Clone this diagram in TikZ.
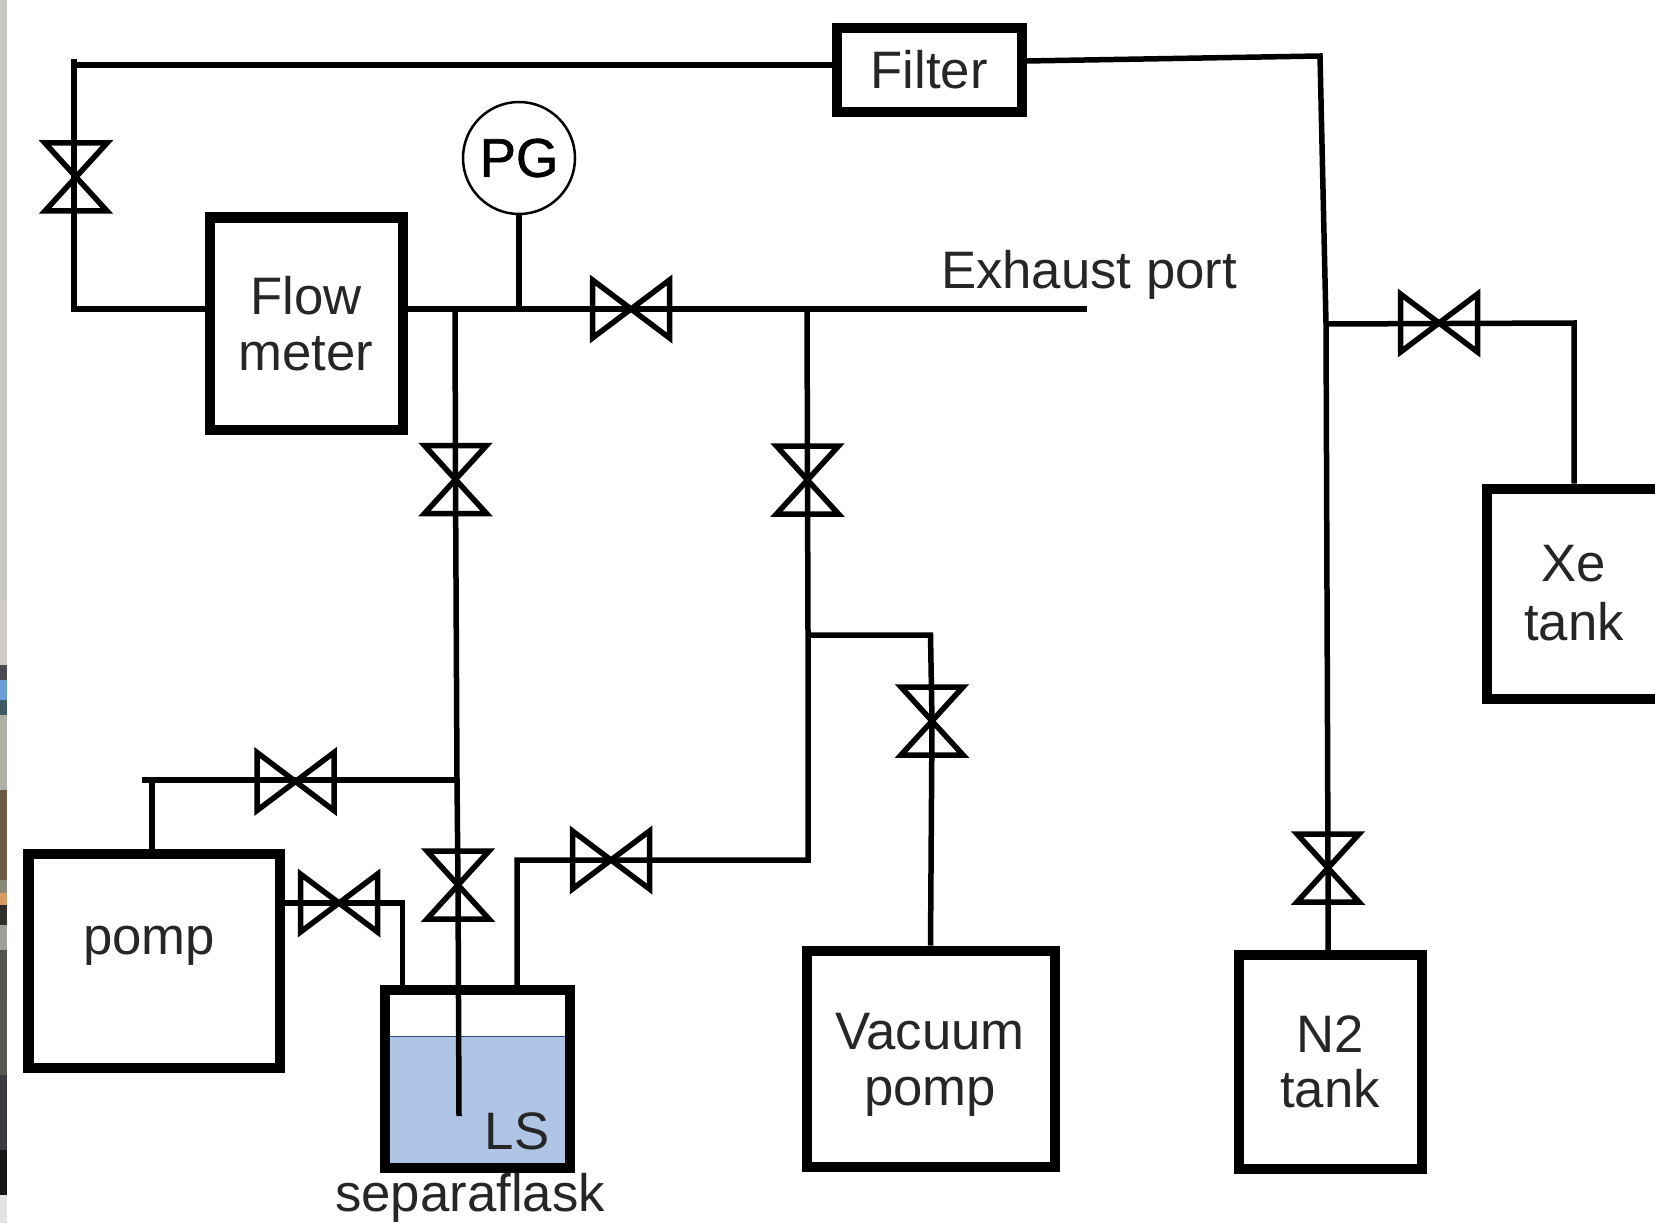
\documentclass[tikz,border=0pt]{standalone}
\usepackage{fontspec}
\setmainfont{Liberation Sans}
\newfontfamily\pgfont[FakeBold=1.2]{Liberation Sans}
\usetikzlibrary{positioning, calc}

\definecolor{lsblue}{HTML}{B0C5E5}
\definecolor{lsline}{HTML}{2A4A80}

\begin{document}
\begin{tikzpicture}[
  font=\fontsize{15}{15.8}\selectfont,
  unit/.style={draw, line width=0.1cm, align=center, inner sep=0pt, text=black!85},
  pipe/.style={line width=0.055cm},
  lbl/.style={text=black!85, inner sep=0pt, align=center},
  hvalve/.style={minimum width=0.9cm, minimum height=0.72cm, inner sep=0pt,
    path picture={\draw[line width=0.055cm, shift={(path picture bounding box.center)}]
      (-0.385,-0.29) -- (-0.385,0.29) -- (0.385,-0.29) -- (0.385,0.29) -- cycle;}},
  vvalve/.style={minimum width=0.78cm, minimum height=0.8cm, inner sep=0pt,
    path picture={\draw[line width=0.055cm, shift={(path picture bounding box.center)}]
      (-0.31,-0.34) -- (0.31,-0.34) -- (-0.31,0.34) -- (0.31,0.34) -- cycle;}}
]
\useasboundingbox (0,0) rectangle (16.55,12.23);
% rest of a photo at the left edge
\foreach \ya/\yb/\col in {12.23/6.23/C9C9C3, 6.23/5.58/CFCDC5, 5.58/5.43/4A4A55,
    5.43/5.23/6A9ED6, 5.23/5.08/3F5A66, 5.08/4.33/B0B0A5, 4.33/3.43/6A5A45,
    3.43/3.30/8A8A7A, 3.30/3.18/D89A60, 3.18/2.98/2E2E2A, 2.98/2.73/A0A098,
    2.73/2.23/555550, 2.23/1.48/55594F, 1.48/0.73/3A3A40, 0.73/0.28/151515,
    0.28/0/E4E4E4} {
  \definecolor{stripcol}{HTML}{\col}
  \fill[stripcol] (0,\ya) rectangle (0.07,\yb);
}
% units
\node[unit, minimum width=1.85cm, minimum height=0.84cm] (filter) at (9.29,11.53) {Filter};
\node[unit, minimum width=1.93cm, minimum height=2.12cm] (fm) at (3.06,8.995) {Flow\\meter};
\node[unit, minimum width=2.51cm, minimum height=2.14cm] (pomp) at (1.54,2.625) {};
\node[lbl] (pomptxt) at (1.49,2.77) {pomp};
\node[unit, minimum width=2.48cm, minimum height=2.16cm] (vac) at (9.305,1.645) {};
\node[lbl] (vactxt) at (9.30,1.58) {Vacuum\\pomp};
\node[unit, minimum width=1.83cm, minimum height=2.14cm] (n2) at (13.30,1.61) {N2\\tank};
\node[unit, minimum width=1.75cm, minimum height=2.10cm] (xe) at (15.74,6.295)
      {Xe\\[1pt]tank};
% liquid in the flask
\node[fill=lsblue, draw=lsline, line width=0.015cm, minimum width=1.85cm,
      minimum height=1.315cm, inner sep=0pt] (liquid) at (4.775,1.2075) {};
\node[unit, minimum width=1.85cm, minimum height=1.78cm] (flask) at (4.775,1.44) {};
\node[lbl] (ls) at (5.17,0.92) {LS};
\node[lbl] (flasktxt) at (4.70,0.255) {separaflask};
% pressure gauge
\node[draw, circle, line width=0.025cm, minimum size=1.12cm, inner sep=0pt,
      font=\fontsize{15.5}{16}\selectfont\pgfont] (pg) at (5.19,10.65) {PG};
\node[lbl] (exh) at (10.89,9.48) {Exhaust port};
% valves
\node[vvalve] (vv1) at (0.76,10.46) {};
\node[vvalve] (vv2) at (4.555,7.435) {};
\node[vvalve] (vv3) at (8.075,7.43) {};
\node[vvalve] (vv4) at (9.32,5.02) {};
\node[vvalve] (vv5) at (4.58,3.38) {};
\node[vvalve] (vv6) at (13.28,3.55) {};
\node[hvalve] (hv1) at (6.31,9.14) {};
\node[hvalve] (hv2) at (14.39,9.00) {};
\node[hvalve] (hv3) at (2.955,4.415) {};
\node[hvalve] (hv4) at (3.39,3.20) {};
\node[hvalve] (hv5) at (6.11,3.63) {};
% junctions and free ends
\coordinate (tl) at (0.74,11.58);
\coordinate (ml) at (0.74,9.14);
\coordinate (j1) at (4.55,9.14);
\coordinate (jpg) at (5.19,9.14);
\coordinate (j2) at (8.07,9.14);
\coordinate (exend) at (10.87,9.14);
\coordinate (j3) at (8.08,5.88);
\coordinate (j4) at (8.08,3.63);
\coordinate (dip) at (4.59,1.07);
\coordinate (jp) at (4.57,4.43);
\coordinate (stub) at (1.42,4.43);
\coordinate (fr) at (10.26,11.62);
\coordinate (rc) at (13.20,11.67);
\coordinate (jx) at (13.26,8.99);
\coordinate (st) at (1.52,4.43);
\coordinate (fa) at (4.025,3.20);
\coordinate (fb) at (5.17,3.63);
% purge line through the filter
\draw[pipe] (fm.west |- ml) -- (ml) -- ($(tl)+(0,0.06)$);
\draw[pipe] (tl) -- (filter.west |- tl);
\draw[pipe] (fr) -- (rc) -- (jx) -- (vv6.center) -- (n2.north -| vv6);
% main line
\draw[pipe] (fm.east |- j1) -- (exend);
\draw[pipe] (pg.south) -- (jpg);
% branch to the flask
\draw[pipe] (j1) -- (vv2.center) -- (jp) -- (vv5.center) -- (dip);
\draw[pipe] (stub) -- (jp);
\draw[pipe] (st) -- (st |- pomp.north);
\draw[pipe] (pomp.east |- hv4) -- (fa) -- (fa |- flask.north);
% branch to the vacuum pomp
\draw[pipe] (j2) -- (vv3.center) -- (j3) -- (j4) -- (fb) -- (fb |- flask.north);
\draw[pipe] (j3) -- (vac.north |- j3) -- (vv4.center) -- (vac.north);
% xenon line
\draw[pipe] (jx) -- (xe.north |- hv2) -- (xe.north);
\end{tikzpicture}
\end{document}
